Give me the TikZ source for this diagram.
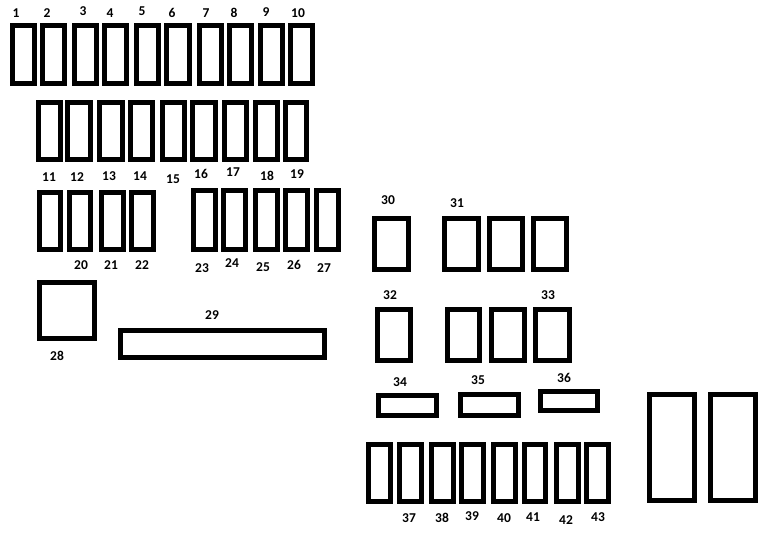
\documentclass[tikz,border=0pt]{standalone}
\usepackage{fontspec}
\setmainfont{Carlito}
\begin{document}
\begin{tikzpicture}[x=1pt,y=-1pt,
  fz/.style={draw=black, line width=5pt, fill=white, inner sep=0pt, outer sep=0pt},
  lbl/.style={font=\fontsize{13.5}{14}\selectfont\bfseries, inner sep=0pt, text=black}]
\newcommand\fz[5]{%
  \pgfmathsetmacro\fzcx{(#2+#4)/2}\pgfmathsetmacro\fzcy{(#3+#5)/2}%
  \pgfmathsetmacro\fzw{#4-#2-5}\pgfmathsetmacro\fzh{#5-#3-5}%
  \node[fz, minimum width=\fzw pt, minimum height=\fzh pt] (#1) at (\fzcx,\fzcy) {};}
\fill[white] (0,0) rectangle (764,536);
\useasboundingbox (0,0) rectangle (764,536);
% row 1
\fz{b1}{10}{23}{37}{86}
\fz{b2}{40}{23}{67}{86}
\fz{b3}{72}{23}{99}{86}
\fz{b4}{102}{23}{129}{86}
\fz{b5}{134}{23}{161}{86}
\fz{b6}{164}{23}{192}{86}
\fz{b7}{197}{23}{224}{86}
\fz{b8}{227}{23}{254}{86}
\fz{b9}{258}{23}{285}{86}
\fz{b10}{288}{23}{315}{86}
\node[lbl] (l1) at (16,13) {1};
\node[lbl] (l2) at (47,13) {2};
\node[lbl] (l3) at (83,11) {3};
\node[lbl] (l4) at (110,13) {4};
\node[lbl] (l5) at (142,11) {5};
\node[lbl] (l6) at (172,13) {6};
\node[lbl] (l7) at (206,13) {7};
\node[lbl] (l8) at (234,13) {8};
\node[lbl] (l9) at (266,12) {9};
\node[lbl] (l10) at (298,13) {10};
% row 2
\fz{b11}{36}{100}{63}{162}
\fz{b12}{65}{100}{93}{162}
\fz{b13}{97}{100}{125}{162}
\fz{b14}{128}{100}{155}{162}
\fz{b15}{160}{100}{187}{162}
\fz{b16}{190}{100}{218}{162}
\fz{b17}{222}{100}{249}{162}
\fz{b18}{253}{100}{280}{162}
\fz{b19}{283}{100}{309}{162}
\node[lbl] (l11) at (49,177) {11};
\node[lbl] (l12) at (77,177) {12};
\node[lbl] (l13) at (109,176) {13};
\node[lbl] (l14) at (140,176) {14};
\node[lbl] (l15) at (173,179) {15};
\node[lbl] (l16) at (201,174) {16};
\node[lbl] (l17) at (233,172) {17};
\node[lbl] (l18) at (267,176) {18};
\node[lbl] (l19) at (297,174) {19};
% row 3
\fz{r3a}{37}{190}{63}{252}
\fz{r3b}{67}{190}{93}{252}
\fz{r3c}{99}{190}{126}{252}
\fz{r3d}{129}{190}{156}{252}
\fz{r3e}{191}{188}{218}{252}
\fz{r3f}{221}{188}{248}{252}
\fz{r3g}{253}{188}{280}{252}
\fz{r3h}{283}{188}{310}{252}
\fz{r3i}{314}{188}{341}{252}
\node[lbl] (l20) at (81,265) {20};
\node[lbl] (l21) at (111,265) {21};
\node[lbl] (l22) at (142,265) {22};
\node[lbl] (l23) at (202,268) {23};
\node[lbl] (l24) at (232,263) {24};
\node[lbl] (l25) at (263,267) {25};
\node[lbl] (l26) at (294,265) {26};
\node[lbl] (l27) at (324,268) {27};
% 28, 29
\fz{b28}{37}{280}{97}{341}
\node[lbl] (l28) at (57,356) {28};
\fz{b29}{118}{328}{327}{360}
\node[lbl] (l29) at (212,315) {29};
% right block
\fz{b30}{372}{216}{411}{272}
\node[lbl] (l30) at (388,200) {30};
\fz{b31a}{442}{216}{481}{272}
\fz{b31b}{487}{216}{525}{272}
\fz{b31c}{531}{216}{569}{272}
\node[lbl] (l31) at (457,203) {31};
\fz{b32}{375}{307}{413}{363}
\node[lbl] (l32) at (390,295) {32};
\fz{b33a}{445}{307}{482}{363}
\fz{b33b}{489}{307}{527}{363}
\fz{b33c}{533}{307}{572}{363}
\node[lbl] (l33) at (548,295) {33};
\fz{b34}{376}{393}{439}{418}
\node[lbl] (l34) at (400,382) {34};
\fz{b35}{458}{392}{521}{418}
\node[lbl] (l35) at (478,380) {35};
\fz{b36}{538}{389}{600}{413}
\node[lbl] (l36) at (564,378) {36};
% bottom row
\fz{c1}{366}{442}{393}{504}
\fz{c2}{397}{442}{424}{504}
\fz{c3}{429}{442}{456}{504}
\fz{c4}{459}{442}{486}{504}
\fz{c5}{491}{442}{518}{504}
\fz{c6}{522}{442}{548}{504}
\fz{c7}{554}{442}{581}{504}
\fz{c8}{584}{442}{611}{504}
\node[lbl] (l37) at (409,518) {37};
\node[lbl] (l38) at (442,518) {38};
\node[lbl] (l39) at (472,516) {39};
\node[lbl] (l40) at (504,518) {40};
\node[lbl] (l41) at (533,517) {41};
\node[lbl] (l42) at (566,520) {42};
\node[lbl] (l43) at (598,517) {43};
% large
\fz{big1}{647}{392}{697}{503}
\fz{big2}{708}{392}{758}{503}
\end{tikzpicture}
\end{document}
